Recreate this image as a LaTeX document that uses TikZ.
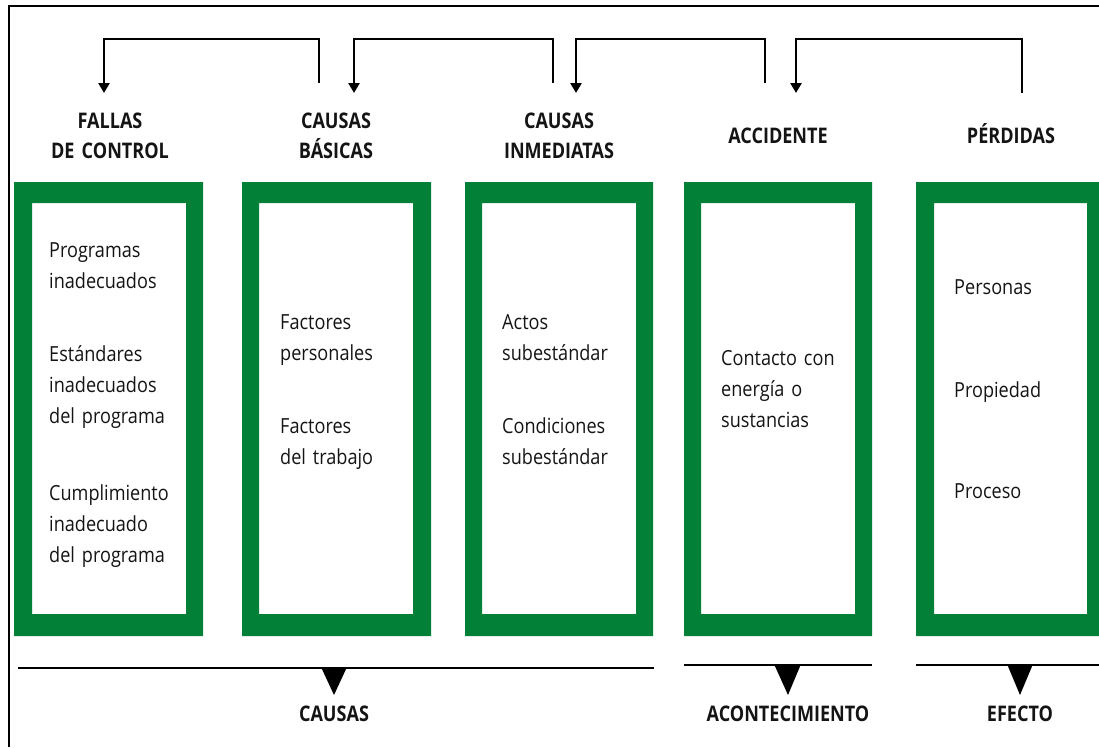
\documentclass[tikz,border=0pt]{standalone}
\usepackage{fontspec}
\setmainfont{Open Sans}[FakeStretch=0.87]
\newfontfamily\hdrfont{Open Sans}[FakeStretch=0.84,UprightFont=* Bold]
\usetikzlibrary{arrows.meta}
\definecolor{boxgreen}{RGB}{2,128,56}
\tikzset{
  bodytxt/.style={anchor=base west, inner sep=0pt, text width=150pt, align=left,
    font=\fontsize{20.8}{31}\selectfont, text=black!92},
  hdrtxt/.style={anchor=base, inner sep=0pt, text width=200pt, align=center,
    font=\hdrfont\fontsize{21.5}{30}\selectfont, text=black!92},
  greenbox/.style={fill=boxgreen, even odd rule},
  toparrow/.style={line width=2.6pt, -{Triangle[width=11pt,length=10pt]}, line join=miter},
  baseline/.style={line width=2.6pt},
  marker/.style={fill=black}
}
\begin{document}
\begin{tikzpicture}[x=1pt,y=-1pt]
\useasboundingbox (0,0) rectangle (1099,747);
% frame
\draw[line width=1.4pt] (9,747) -- (9,6) -- (1099,6);
% green boxes
\fill[greenbox] (14,182) rectangle (203,636) (32,203) rectangle (186,614);
\fill[greenbox] (242,182) rectangle (431,636) (259,203) rectangle (413,614);
\fill[greenbox] (465,182) rectangle (653,636) (482,203) rectangle (636,614);
\fill[greenbox] (684,182) rectangle (872,636) (701,203) rectangle (855,614);
\fill[greenbox] (916,182) rectangle (1105,636) (934,203) rectangle (1087,614);
% headers
\node[hdrtxt] (h1) at (110,128) {FALLAS\\DE CONTROL};
\node[hdrtxt] (h2) at (336,128) {CAUSAS\\BÁSICAS};
\node[hdrtxt] (h3) at (559,128) {CAUSAS\\INMEDIATAS};
\node[hdrtxt] (h4) at (778,143) {ACCIDENTE};
\node[hdrtxt] (h5) at (1011,143) {PÉRDIDAS};
% top arrows
\coordinate (s1) at (319,83); \coordinate (t1) at (104,93);
\coordinate (s2) at (553,83); \coordinate (t2) at (354,93);
\coordinate (s3) at (765,83); \coordinate (t3) at (576,93);
\coordinate (s4) at (1022,93); \coordinate (t4) at (796,93);
\draw[toparrow] (s1) -- (319,39) -| (t1);
\draw[toparrow] (s2) -- (553,39) -| (t2);
\draw[toparrow] (s3) -- (765,39) -| (t3);
\draw[toparrow] (s4) -- (1022,39) -| (t4);
% body texts
\node[bodytxt] (b1a) at (49,257) {Programas\\inadecuados};
\node[bodytxt] (b1b) at (49,361) {Estándares\\inadecuados\\del programa};
\node[bodytxt] (b1c) at (49,500) {Cumplimiento\\inadecuado\\del programa};
\node[bodytxt] (b2a) at (280,329) {Factores\\personales};
\node[bodytxt] (b2b) at (280,433) {Factores\\del trabajo};
\node[bodytxt] (b3a) at (502,329) {Actos\\subestándar};
\node[bodytxt] (b3b) at (502,433) {Condiciones\\subestándar};
\node[bodytxt] (b4a) at (721,365) {Contacto con\\energía o\\sustancias};
\node[bodytxt] (b5a) at (954,294) {Personas};
\node[bodytxt] (b5b) at (954,397) {Propiedad};
\node[bodytxt] (b5c) at (954,498) {Proceso};
% bottom lines
\coordinate (l1a) at (18,668); \coordinate (l1b) at (654,668);
\coordinate (l2a) at (684,665); \coordinate (l2b) at (872,665);
\coordinate (l3a) at (916,665); \coordinate (l3b) at (1099,665);
\draw[baseline] (l1a) -- (l1b);
\draw[baseline] (l2a) -- (l2b);
\draw[baseline] (l3a) -- (l3b);
\fill[marker] (321,667) -- (347,667) -- (334,695) -- cycle;
\fill[marker] (774,664) -- (801,664) -- (788,695) -- cycle;
\fill[marker] (1007,664) -- (1033,664) -- (1020,695) -- cycle;
% bottom labels
\node[hdrtxt] (c1) at (334,721) {CAUSAS};
\node[hdrtxt] (c2) at (788,721) {ACONTECIMIENTO};
\node[hdrtxt] (c3) at (1020,721) {EFECTO};
\end{tikzpicture}
\end{document}
